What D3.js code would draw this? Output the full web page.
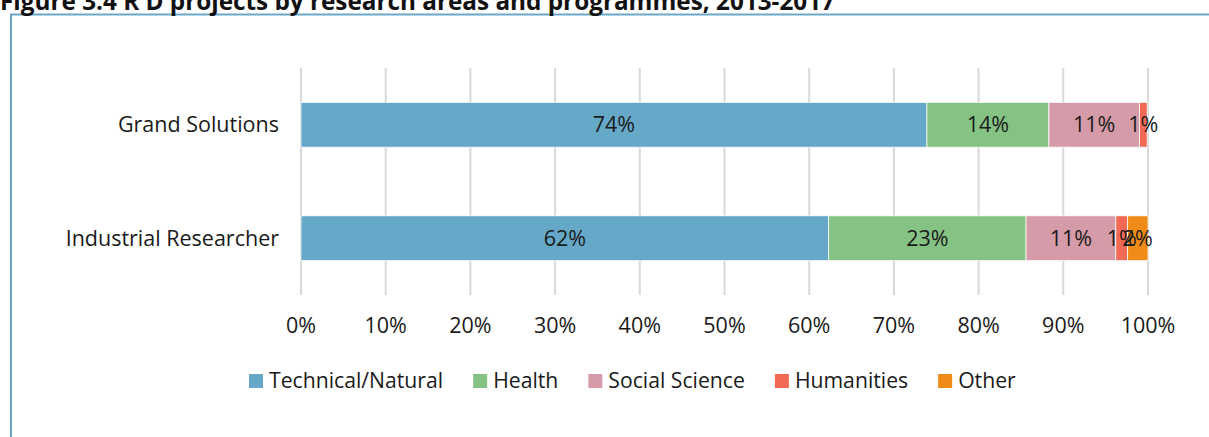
<!DOCTYPE html>
<html>
<head>
    <meta charset="utf-8" />
    <title>R D projects by research areas</title>
    <style>
        body { margin: 0; background: #ffffff; }
        svg { display: block; font-family: 'Open Sans', sans-serif; }
        .grid line { stroke: #d9d9d9; stroke-width: 2px; }
        .label { font-size: 21.5px; fill: #1a1a1a; }
        .legend-text { font-size: 21.2px; fill: #1a1a1a; }
        .title { font-size: 24.3px; font-weight: bold; fill: #111111; }
    </style>
    <script src="https://cdn.jsdelivr.net/npm/d3@7"></script>
</head>
<body>
    <svg width="1209" height="437"></svg>

    <script>
        // data (shares in %)
        var programmes = ['Grand Solutions', 'Industrial Researcher'];
        var areas = ['Technical/Natural', 'Health', 'Social Science', 'Humanities', 'Other'];
        var colors = ['#66a8c8', '#85c385', '#d59ba9', '#f26a55', '#f08b17'];
        var grandSolutions = [73.9, 14.4, 10.7, 0.9, 0];
        var industrialResearcher = [62.3, 23.3, 10.6, 1.4, 2.4];
        var valueLabels = [['74%', '14%', '11%', '1%', ''], ['62%', '23%', '11%', '1%', '2%']];
        var xTicks = [0, 10, 20, 30, 40, 50, 60, 70, 80, 90, 100];

        var svg = d3.select('svg');

        var rows = [grandSolutions, industrialResearcher].map(function(vals, i) {
            var acc = 0;
            return {
                name: programmes[i],
                segs: vals.map(function(v, j) {
                    var s = { area: areas[j], x0: acc, x1: acc + v, label: valueLabels[i][j], color: colors[j] };
                    acc += v;
                    return s;
                })
            };
        });

        var x = d3.scaleLinear().domain([0, 100]).range([301, 1148]);
        var y = d3.scaleBand().domain(programmes).range([68, 295])
            .paddingInner(0.605).paddingOuter(0.3025);

        // frame round the figure
        svg.append('rect')
            .attr('x', 11).attr('y', 14.5)
            .attr('width', 1300).attr('height', 500)
            .attr('fill', 'none')
            .attr('stroke', '#6aa7c8')
            .attr('stroke-width', 2);

        svg.append('text')
            .attr('class', 'title')
            .attr('x', 0).attr('y', 10)
            .text('Figure 3.4 R D projects by research areas and programmes, 2013-2017');

        svg.append('g')
            .attr('class', 'grid')
            .selectAll('line')
            .data(xTicks)
            .enter().append('line')
                .attr('x1', function(d) { return x(d); })
                .attr('x2', function(d) { return x(d); })
                .attr('y1', 68)
                .attr('y2', 295);

        var row = svg.selectAll('.row')
            .data(rows)
            .enter().append('g')
                .attr('class', 'row');

        row.selectAll('rect')
            .data(function(d) { return d.segs.map(function(s) { s.row = d.name; return s; }); })
            .enter().append('rect')
                .attr('x', function(d) { return x(d.x0); })
                .attr('y', function(d) { return y(d.row); })
                .attr('width', function(d) { return x(d.x1) - x(d.x0); })
                .attr('height', y.bandwidth())
                .attr('fill', function(d) { return d.color; })
                .attr('stroke', '#ffffff')
                .attr('stroke-width', 0.75);

        row.selectAll('text.value')
            .data(function(d) { return d.segs.filter(function(s) { return s.label; }); })
            .enter().append('text')
                .attr('class', 'label value')
                .attr('x', function(d) { return x((d.x0 + d.x1) / 2); })
                .attr('y', function(d) { return y(d.row) + y.bandwidth() / 2; })
                .attr('dy', '0.35em')
                .attr('text-anchor', 'middle')
                .text(function(d) { return d.label; });

        svg.selectAll('text.cat')
            .data(programmes)
            .enter().append('text')
                .attr('class', 'label cat')
                .attr('x', 279)
                .attr('y', function(d) { return y(d) + y.bandwidth() / 2; })
                .attr('dy', '0.35em')
                .attr('text-anchor', 'end')
                .text(function(d) { return d; });

        svg.selectAll('text.tick')
            .data(xTicks)
            .enter().append('text')
                .attr('class', 'label tick')
                .attr('x', function(d) { return x(d); })
                .attr('y', 333)
                .attr('text-anchor', 'middle')
                .text(function(d) { return d + '%'; });

        // legend, laid out left to right
        var legend = svg.append('g').attr('transform', 'translate(249, 381)');
        var lx = 0;
        areas.forEach(function(a, i) {
            var item = legend.append('g').attr('transform', 'translate(' + lx + ', 0)');
            item.append('rect')
                .attr('x', 0).attr('y', -7)
                .attr('width', 14).attr('height', 14)
                .attr('fill', colors[i]);
            var t = item.append('text')
                .attr('class', 'legend-text')
                .attr('x', 20)
                .attr('dy', '0.35em')
                .text(a);
            lx += 20 + t.node().getComputedTextLength() + 30;
        });
    </script>
</body>
</html>
